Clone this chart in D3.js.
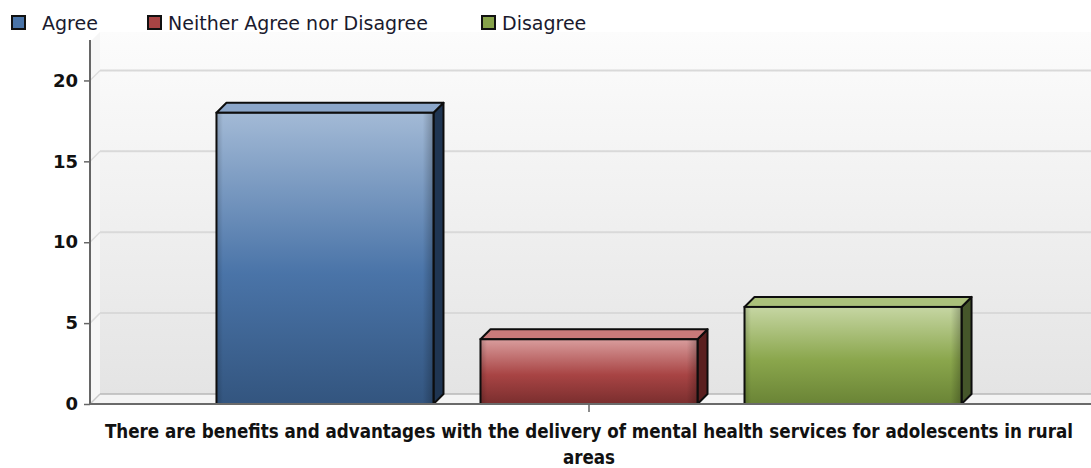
<!DOCTYPE html>
<html>
<head>
<meta charset="utf-8">
<script src="https://cdn.jsdelivr.net/npm/d3@7"></script>
<style>
  html, body { margin: 0; padding: 0; background: #fff; }
  svg { display: block; }
</style>
</head>
<body>
<svg id="chart" width="1091" height="468"></svg>
<script>
// ---- data ----
const categories = ["There are benefits and advantages with the delivery of mental health services for adolescents in rural areas"];
const seriesNames = ["Agree", "Neither Agree nor Disagree", "Disagree"];
const seriesValues = [18, 4, 6];
const yTicks = [0, 5, 10, 15, 20];

// ---- styles ----
const palette = {
  "Agree": { base: "#4a74a8", top: "#a3bad6", mid: "#4a74a8", bot: "#33557f", cap: "#8ba6c9", side: "#1f3552" },
  "Neither Agree nor Disagree": { base: "#a84444", top: "#d99d9d", mid: "#a84444", bot: "#7a2e2e", cap: "#c97a7a", side: "#5a1f1f" },
  "Disagree": { base: "#86a24a", top: "#c6d6a3", mid: "#8aa64c", bot: "#6a8436", cap: "#abc17b", side: "#45562a" }
};

(function () {
const W = 1091, H = 468;
const svg = d3.select("#chart");
const defs = svg.append("defs");
const depth = 10;
const mLeft = 90, mRight = 1088, mBottom = 404, mTop = 40;

const y = d3.scaleLinear().domain([0, 22.5]).range([mBottom, mTop]);
const x0 = d3.scaleBand().domain(categories).range([mLeft, mRight]);
const x1 = d3.scaleBand().domain(seriesNames).range([0, x0.bandwidth()])
  .paddingInner(0.178).paddingOuter(0.479);

// gradients
const wallG = defs.append("linearGradient").attr("id", "wall").attr("x1", 0).attr("y1", 0).attr("x2", 0).attr("y2", 1);
wallG.append("stop").attr("offset", "0%").attr("stop-color", "#fcfcfc");
wallG.append("stop").attr("offset", "100%").attr("stop-color", "#e4e4e4");

seriesNames.forEach((s, i) => {
  const p = palette[s];
  const g = defs.append("linearGradient").attr("id", "front" + i).attr("x1", 0).attr("y1", 0).attr("x2", 0).attr("y2", 1);
  g.append("stop").attr("offset", "0%").attr("stop-color", p.top);
  g.append("stop").attr("offset", "55%").attr("stop-color", p.mid);
  g.append("stop").attr("offset", "100%").attr("stop-color", p.bot);
});
const edge = defs.append("linearGradient").attr("id", "edge").attr("x1", 0).attr("y1", 0).attr("x2", 1).attr("y2", 0);
edge.append("stop").attr("offset", "0%").attr("stop-color", "#000").attr("stop-opacity", 0.18);
edge.append("stop").attr("offset", "3%").attr("stop-color", "#000").attr("stop-opacity", 0);
edge.append("stop").attr("offset", "95%").attr("stop-color", "#000").attr("stop-opacity", 0);
edge.append("stop").attr("offset", "100%").attr("stop-color", "#000").attr("stop-opacity", 0.25);

// back wall
const wallTop = 32;
svg.append("rect").attr("x", mLeft + depth).attr("y", wallTop)
  .attr("width", W - mLeft - depth).attr("height", mBottom - depth - wallTop)
  .attr("fill", "url(#wall)");
// left side wall
svg.append("path")
  .attr("d", `M${mLeft},${mBottom} L${mLeft},${wallTop + depth} L${mLeft + depth},${wallTop} L${mLeft + depth},${mBottom - depth} Z`)
  .attr("fill", "#f6f6f6");

// floor
svg.append("path")
  .attr("d", `M${mLeft},${mBottom} L${mLeft + depth},${mBottom - depth} L${W},${mBottom - depth} L${W},${mBottom} Z`)
  .attr("fill", "#f4f4f4");
svg.append("line").attr("x1", mLeft + depth).attr("x2", W).attr("y1", mBottom - depth).attr("y2", mBottom - depth)
  .attr("stroke", "#b8b8b8").attr("stroke-width", 1.5);
svg.append("line").attr("x1", mLeft).attr("y1", mBottom).attr("x2", mLeft + depth).attr("y2", mBottom - depth)
  .attr("stroke", "#c8c8c8").attr("stroke-width", 1.5);

// grid lines
yTicks.filter(t => t > 0).forEach(t => {
  svg.append("line").attr("x1", mLeft + depth).attr("x2", W)
    .attr("y1", y(t) - depth).attr("y2", y(t) - depth)
    .attr("stroke", "#d9d9d9").attr("stroke-width", 2);
  svg.append("line").attr("x1", mLeft).attr("y1", y(t)).attr("x2", mLeft + depth).attr("y2", y(t) - depth)
    .attr("stroke", "#dcdcdc").attr("stroke-width", 1.5);
});

// bars
const barG = svg.append("g");
categories.forEach(cat => {
  seriesNames.forEach((s, i) => {
    const v = seriesValues[i];
    const bx = x0(cat) + x1(s);
    const bw = x1.bandwidth();
    const yt = y(v), yb = y(0);
    const p = palette[s];
    const g = barG.append("g");
    g.append("path")
      .attr("d", `M${bx + bw},${yt} L${bx + bw + depth},${yt - depth} L${bx + bw + depth},${yb - depth} L${bx + bw},${yb} Z`)
      .attr("fill", p.side).attr("stroke", "#0d0d0d").attr("stroke-width", 2).attr("stroke-linejoin", "round");
    g.append("path")
      .attr("d", `M${bx},${yt} L${bx + depth},${yt - depth} L${bx + bw + depth},${yt - depth} L${bx + bw},${yt} Z`)
      .attr("fill", p.cap).attr("stroke", "#0d0d0d").attr("stroke-width", 2).attr("stroke-linejoin", "round");
    g.append("rect").attr("x", bx).attr("y", yt).attr("width", bw).attr("height", yb - yt)
      .attr("fill", `url(#front${i})`);
    g.append("rect").attr("x", bx).attr("y", yt).attr("width", bw).attr("height", yb - yt)
      .attr("fill", "url(#edge)").attr("stroke", "#0d0d0d").attr("stroke-width", 2);
  });
});

// y axis
svg.append("line").attr("x1", mLeft).attr("x2", mLeft).attr("y1", mTop).attr("y2", mBottom)
  .attr("stroke", "#666").attr("stroke-width", 2);
const yAxis = d3.axisLeft(y).tickValues(yTicks).tickSize(6).tickPadding(6).tickFormat(d3.format("d"));
const yg = svg.append("g").attr("transform", `translate(${mLeft},0)`).call(yAxis);
yg.select(".domain").remove();
yg.selectAll(".tick line").attr("stroke", "#666").attr("stroke-width", 1.5);
yg.selectAll(".tick text")
  .attr("font-family", "'DejaVu Sans', sans-serif").attr("font-weight", "bold")
  .attr("font-size", 18).attr("fill", "#111");

// x axis
svg.append("line").attr("x1", mLeft).attr("x2", W).attr("y1", mBottom).attr("y2", mBottom)
  .attr("stroke", "#6a6a6a").attr("stroke-width", 2);
const xAxis = d3.axisBottom(x0).tickSize(8).tickFormat("");
const xg = svg.append("g").attr("transform", `translate(0,${mBottom})`).call(xAxis);
xg.select(".domain").remove();
xg.selectAll(".tick line").attr("stroke", "#666").attr("stroke-width", 1.5);

// x category labels with wrapping
categories.forEach(cat => {
  const cx = x0(cat) + x0.bandwidth() / 2;
  const t = svg.append("text").attr("x", cx).attr("y", 438)
    .attr("text-anchor", "middle")
    .attr("font-family", "'DejaVu Sans Condensed', 'DejaVu Sans', sans-serif")
    .attr("font-stretch", "condensed")
    .attr("font-weight", "bold").attr("font-size", 18.6).attr("fill", "#111");
  const words = cat.split(" ");
  let line = [];
  let tspan = t.append("tspan").attr("x", cx).attr("dy", 0);
  const maxW = 990;
  words.forEach(w => {
    line.push(w);
    tspan.text(line.join(" "));
    if (tspan.node().getComputedTextLength() > maxW && line.length > 1) {
      line.pop();
      tspan.text(line.join(" "));
      line = [w];
      tspan = t.append("tspan").attr("x", cx).attr("dy", 26).text(w);
    }
  });
});

// legend
const legendX = [11, 147, 481];
const legend = svg.append("g");
seriesNames.forEach((s, i) => {
  const g = legend.append("g").attr("transform", `translate(${legendX[i]},16)`);
  g.append("rect").attr("x", 1).attr("y", 0).attr("width", 13).attr("height", 13)
    .attr("fill", palette[s].base).attr("stroke", "#111").attr("stroke-width", 2);
  g.append("text").attr("x", i === 0 ? 31 : 21).attr("y", 13.5)
    .attr("font-family", "'DejaVu Sans', sans-serif").attr("font-size", 19)
    .attr("fill", "#1a1a2e").text(s);
});
})();
</script>
</body>
</html>
